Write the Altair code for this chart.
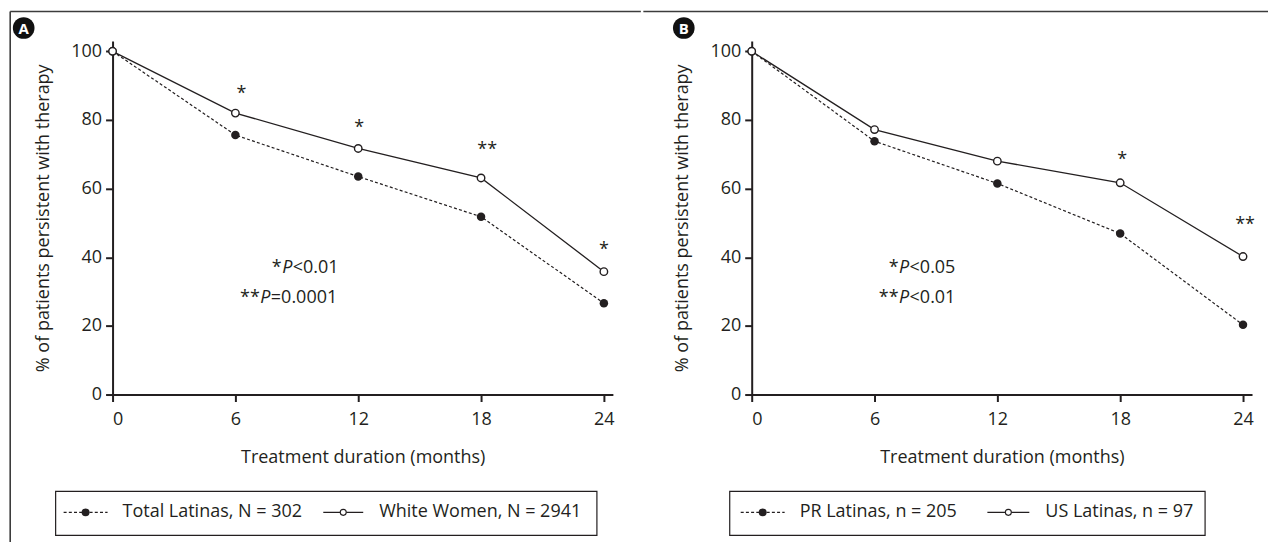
import altair as alt
import pandas as pd

# ---------------- data ----------------
months = [0, 6, 12, 18, 24]

a_names = ["Total Latinas, N = 302", "White Women, N = 2941"]
a_dashed = [100, 75.6, 63.5, 51.8, 26.6]
a_solid = [100, 82.0, 71.7, 63.1, 35.8]

b_names = ["PR Latinas, n = 205", "US Latinas, n = 97"]
b_dashed = [100, 73.8, 61.5, 46.9, 20.3]
b_solid = [100, 77.2, 68.0, 61.7, 40.2]

# significance stars above points
a_star_x = [6.3, 12.05, 18.3, 24.0]
a_star_y = [86.2, 76.3, 69.8, 40.6]
a_star_t = ["*", "*", "**", "*"]
b_star_x = [18.1, 24.1]
b_star_y = [66.9, 48.0]
b_star_t = ["*", "**"]

# p-value notes: stars, italic P, rest
a_note_x = [8.29, 7.22]
a_note_y = [35.5, 26.7]
a_note_s = ["*", "**"]
a_note_r = ["<0.01", "=0.0001"]
b_note_x = [7.2, 7.2]
b_note_y = [35.3, 26.7]
b_note_s = ["*", "**"]
b_note_r = ["<0.05", "<0.01"]

x_ticks = [0, 6, 12, 18, 24]
y_ticks = [0, 20, 40, 60, 80, 100]
x_title = "Treatment duration (months)"
y_title = "% of patients persistent with therapy"

# ---------------- style ----------------
FONT = "Open Sans"
INK = "#231f20"
FRAME = "#3c3c3c"
W, H = 501, 354
X_MAX, Y_MAX = 24.44, 103
FS = 18

one = pd.DataFrame({"d": [0]})


def panel(letter, names, dashed, solid, sx, sy, st, nx, ny, ns, nr, geom):
    df = pd.DataFrame({
        "month": months + months,
        "pct": dashed + solid,
        "series": [names[0]] * len(months) + [names[1]] * len(months),
    })
    xenc = alt.X("month:Q",
                 scale=alt.Scale(domain=[0, X_MAX], nice=False, zero=False),
                 axis=alt.Axis(values=x_ticks, title=x_title, labelPadding=9,
                               titlePadding=20, format="d"))
    yenc = alt.Y("pct:Q",
                 scale=alt.Scale(domain=[0, Y_MAX], nice=False),
                 axis=alt.Axis(values=y_ticks, title=y_title, labelPadding=4,
                               titlePadding=18, format="d"))
    base = alt.Chart(df).encode(x=xenc, y=yenc)
    d_sel = alt.datum.series == names[0]
    s_sel = alt.datum.series == names[1]

    dline = base.mark_line(color=INK, strokeWidth=1.2, strokeDash=[3, 2.2]).transform_filter(d_sel)
    dpts = base.mark_point(shape="circle", filled=True, color=INK, size=72, opacity=1).transform_filter(d_sel)
    sline = base.mark_line(color=INK, strokeWidth=1.3).transform_filter(s_sel)
    spts = base.mark_point(shape="circle", fill="white", fillOpacity=1, stroke=INK,
                           strokeWidth=1.4, size=56, opacity=1).transform_filter(s_sel)

    stars_df = pd.DataFrame({"x": sx, "y": sy, "t": st})
    stars = alt.Chart(stars_df).mark_text(font=FONT, fontSize=FS, color=INK,
                                          baseline="alphabetic", align="center").encode(
        x=alt.X("x:Q"), y=alt.Y("y:Q"), text="t:N")

    notes_df = pd.DataFrame({"x": nx, "y": ny, "s": ns, "r": nr, "p": ["P"] * len(nx)})
    nb = alt.Chart(notes_df).encode(x=alt.X("x:Q"), y=alt.Y("y:Q"))
    n_s = nb.mark_text(font=FONT, fontSize=FS, color=INK, baseline="alphabetic",
                       align="right", dx=-0.5).encode(text="s:N")
    n_p = nb.mark_text(font=FONT, fontSize=FS, color=INK, baseline="alphabetic",
                       align="left", fontStyle="italic").encode(text="p:N")
    n_r = nb.mark_text(font=FONT, fontSize=FS, color=INK, baseline="alphabetic",
                       align="left", dx=10.5).encode(text="r:N")

    g = geom
    deco = []
    # frame
    deco.append(alt.Chart(one).mark_rule(color=FRAME, strokeWidth=1.6).encode(
        x=alt.value(g["top_x1"]), x2=alt.value(g["top_x2"]),
        y=alt.value(-29.5)))
    if g.get("left"):
        deco.append(alt.Chart(one).mark_rule(color=FRAME, strokeWidth=1.6).encode(
            x=alt.value(g["top_x1"]), y=alt.value(-29.5), y2=alt.value(502)))
    # panel letter
    deco.append(alt.Chart(one).mark_point(shape="circle", filled=True, color="#111111",
                                          size=470, opacity=1).encode(
        x=alt.value(g["lx"]), y=alt.value(-13)))
    deco.append(alt.Chart(one).mark_text(font=FONT, fontSize=15, fontWeight="bold",
                                         color="white", baseline="middle", align="center").encode(
        x=alt.value(g["lx"]), y=alt.value(-12.5), text=alt.value(letter)))
    # legend box
    deco.append(alt.Chart(one).mark_rect(fill="white", stroke=INK, strokeWidth=1.2).encode(
        x=alt.value(g["bx1"]), x2=alt.value(g["bx2"]), y=alt.value(451), y2=alt.value(495)))
    ly = 472
    deco.append(alt.Chart(one).mark_rule(color=INK, strokeWidth=1.2, strokeDash=[3, 2.2]).encode(
        x=alt.value(g["l1"][0]), x2=alt.value(g["l1"][1]), y=alt.value(ly)))
    deco.append(alt.Chart(one).mark_point(shape="circle", filled=True, color=INK, size=64,
                                          opacity=1).encode(
        x=alt.value((g["l1"][0] + g["l1"][1]) / 2), y=alt.value(ly)))
    deco.append(alt.Chart(one).mark_text(font=FONT, fontSize=FS, color=INK, align="left",
                                         baseline="middle").encode(
        x=alt.value(g["t1"]), y=alt.value(ly), text=alt.value(names[0])))
    deco.append(alt.Chart(one).mark_rule(color=INK, strokeWidth=1.2).encode(
        x=alt.value(g["l2"][0]), x2=alt.value(g["l2"][1]), y=alt.value(ly)))
    deco.append(alt.Chart(one).mark_point(shape="circle", fill="white", fillOpacity=1,
                                          stroke=INK, strokeWidth=1.1, size=36,
                                          opacity=1).encode(
        x=alt.value((g["l2"][0] + g["l2"][1]) / 2), y=alt.value(ly)))
    deco.append(alt.Chart(one).mark_text(font=FONT, fontSize=FS, color=INK, align="left",
                                         baseline="middle").encode(
        x=alt.value(g["t2"]), y=alt.value(ly), text=alt.value(names[1])))

    return alt.layer(dline, dpts, sline, spts, stars, n_s, n_p, n_r, *deco).properties(
        width=W, height=H)


geom_a = dict(top_x1=-102.5, top_x2=529, left=True, lx=-89, bx1=-57, bx2=485,
              l1=(-49, -5), t1=10, l2=(211, 251), t2=267)
geom_b = dict(top_x1=-108.5, top_x2=517, left=False, lx=-68, bx1=-22, bx2=454,
              l1=(-11, 33), t1=48, l2=(236, 278), t2=294)

pa = panel("A", a_names, a_dashed, a_solid, a_star_x, a_star_y, a_star_t,
           a_note_x, a_note_y, a_note_s, a_note_r, geom_a)
pb = panel("B", b_names, b_dashed, b_solid, b_star_x, b_star_y, b_star_t,
           b_note_x, b_note_y, b_note_s, b_note_r, geom_b)

chart = alt.hconcat(pa, pb, spacing=0).properties(
    padding={"left": 0.7, "top": 1.7, "right": 0, "bottom": 0}
).configure_view(stroke=None).configure_axis(
    grid=False,
    domainColor=INK, domainWidth=2,
    tickColor=INK, tickWidth=2, tickSize=7,
    labelFont=FONT, labelFontSize=FS, labelColor=INK,
    titleFont=FONT, titleFontSize=FS, titleFontWeight="normal", titleColor=INK,
)

chart.save("out.html", embed_options={"renderer": "svg", "actions": False})
